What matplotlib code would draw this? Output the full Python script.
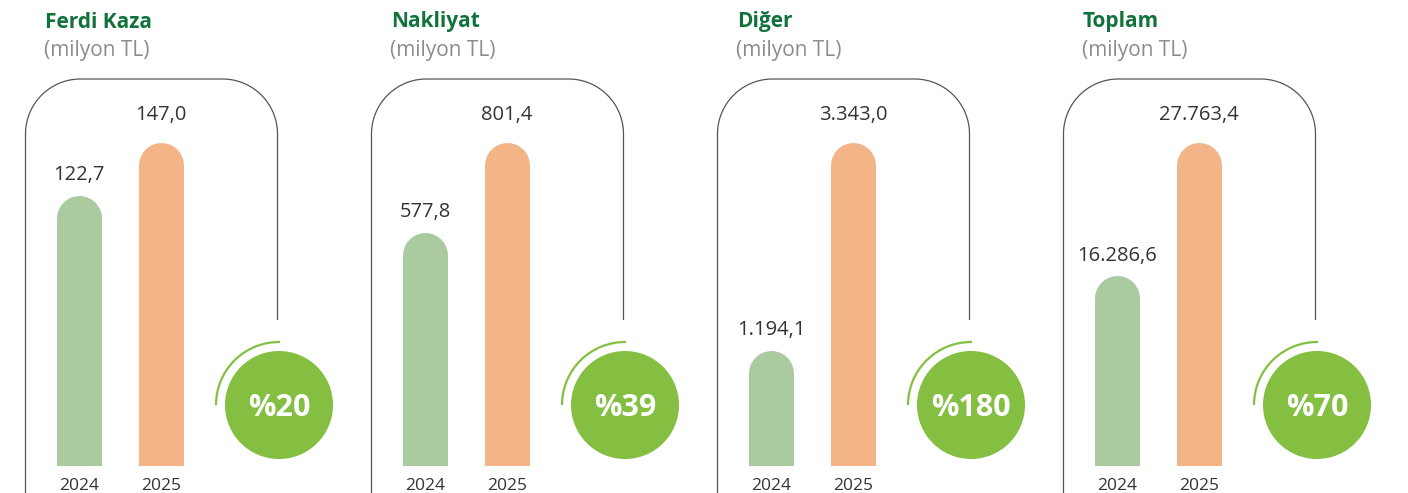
import numpy as np
import matplotlib.pyplot as plt
from matplotlib.patches import Circle, Arc

plt.rcParams['font.family'] = ['Open Sans', 'DejaVu Sans']

titles = ['Ferdi Kaza', 'Nakliyat', 'Diğer', 'Toplam']
years = ['2024', '2025']
v2024 = [122.7, 577.8, 1194.1, 16286.6]
v2025 = [147.0, 801.4, 3343.0, 27763.4]
growth = ['%20', '%39', '%180', '%70']

c_green_bar = '#a9cb9f'
c_orange_bar = '#f3b587'
c_circle = '#84bf41'
c_title = '#11733b'
c_text = '#333333'
c_sub = '#8c8c8c'
c_line = '#555555'


def tr(v):
    s = f"{v:,.1f}"
    return s.replace(',', 'X').replace('.', ',').replace('X', '.')


W, H = 1408, 493
fig = plt.figure(figsize=(W / 100, H / 100), dpi=100)
bg = fig.add_axes([0, 0, 1, 1])
bg.set_xlim(0, W)
bg.set_ylim(H, 0)
bg.axis('off')

bar_w_px = 45
full_px = 324   # pixel height of the tallest bar
ax_px = 346     # axes height, a bit taller so the round caps are not clipped
for i in range(4):
    ox = i * 346
    # titles
    bg.text(ox + 45, 27.5, titles[i], fontsize=15, fontweight='bold', color=c_title, va='baseline', ha='left')
    bg.text(ox + 44, 56, '(milyon TL)', fontsize=15, color=c_sub, va='baseline', ha='left')

    # bracket outline
    L, Rr, T, R = ox + 25.5, ox + 277.5, 79, 55
    a1 = np.linspace(np.pi, 1.5 * np.pi, 40)
    a2 = np.linspace(1.5 * np.pi, 2 * np.pi, 40)
    xs = np.concatenate([[L], L + R + R * np.cos(a1), Rr - R + R * np.cos(a2), [Rr]])
    ys = np.concatenate([[H + 5], T + R + R * np.sin(a1), T + R + R * np.sin(a2), [320]])
    bg.plot(xs, ys, color=c_line, lw=0.9, solid_capstyle='butt')

    # growth circle
    cx, cy = ox + 279, 405
    bg.add_patch(Circle((cx, cy), 54, color=c_circle, lw=0))
    bg.add_patch(Arc((cx, cy), 126, 126, theta1=180, theta2=271, color=c_circle, lw=1.6))
    bg.text(cx, cy + 3, growth[i], fontsize=22, fontweight='bold', color='white', ha='center', va='center')

    # bars: thick lines with round caps, bottom cap clipped by the axes
    ax = fig.add_axes([(ox + 38) / W, (H - 466) / H, 164 / W, ax_px / H])
    ax.patch.set_alpha(0)
    vals = [v2024[i], v2025[i]]
    vmax = max(vals)
    ax.set_xlim(-0.5, 1.5)
    ax.set_ylim(0, vmax * ax_px / full_px)
    r_data = (bar_w_px / 2) / full_px * vmax
    cols = [c_green_bar, c_orange_bar]
    offs = [11, 16]
    for j, v in enumerate(vals):
        ax.plot([j, j], [-2 * r_data, v - r_data], color=cols[j], lw=bar_w_px * 0.72,
                solid_capstyle='round')
        ax.annotate(tr(v), (j, v), xytext=(0, offs[j]), textcoords='offset points',
                    ha='center', va='baseline', fontsize=14.5, color=c_text)
    ax.set_xticks([0, 1])
    ax.set_xticklabels(years, fontsize=12.5, color=c_text)
    ax.tick_params(axis='x', length=0, pad=9)
    ax.set_yticks([])
    for s in ax.spines.values():
        s.set_visible(False)

fig.savefig('out.png', dpi=100)
